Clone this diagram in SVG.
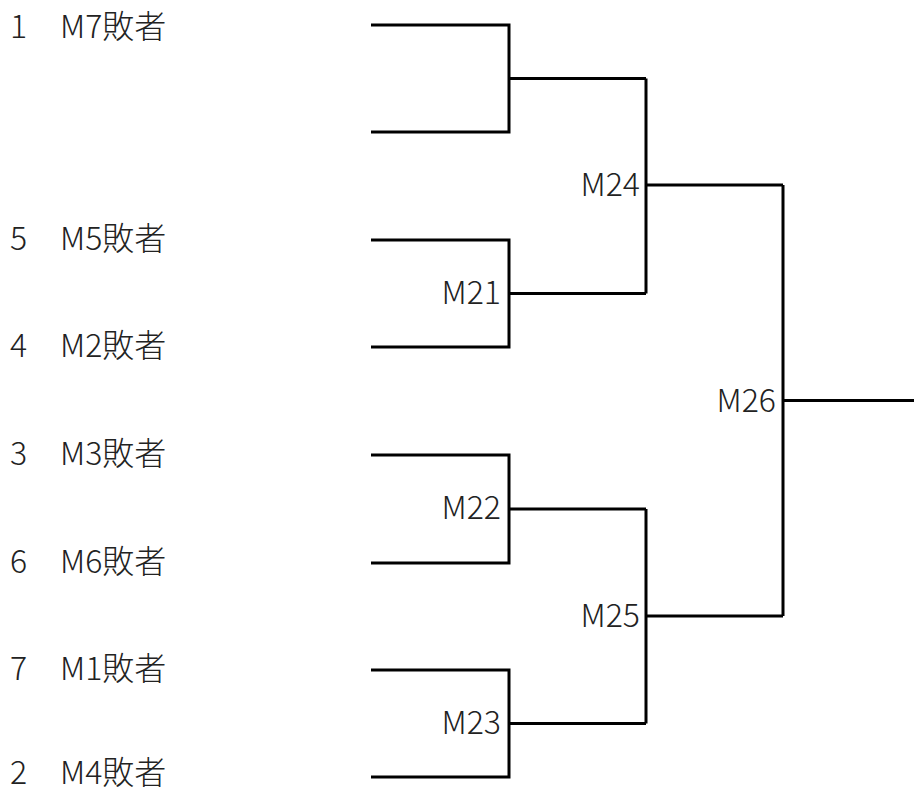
<svg xmlns="http://www.w3.org/2000/svg" width="914" height="794" viewBox="0 0 914 794">
<style>
text{font-family:"Noto Sans CJK JP","Noto Sans",sans-serif;font-size:32px;font-weight:300;fill:#222}
.lbl{text-anchor:end}
.c path{fill:none;stroke:#000;stroke-width:3;stroke-linecap:butt;stroke-linejoin:miter}
</style>
<rect width="914" height="794" fill="#fff"/>
<g id="entries">
<g id="e1"><text x="10" y="38">1</text><text x="60" y="38">M7敗者</text></g>
<g id="e5"><text x="10" y="250">5</text><text x="60" y="250">M5敗者</text></g>
<g id="e4"><text x="10" y="357">4</text><text x="60" y="357">M2敗者</text></g>
<g id="e3"><text x="10" y="465">3</text><text x="60" y="465">M3敗者</text></g>
<g id="e6"><text x="10" y="573">6</text><text x="60" y="573">M6敗者</text></g>
<g id="e7"><text x="10" y="680">7</text><text x="60" y="680">M1敗者</text></g>
<g id="e2"><text x="10" y="784">2</text><text x="60" y="784">M4敗者</text></g>
</g>
<g id="M21"><text class="lbl" x="501" y="304">M21</text></g>
<g id="M22"><text class="lbl" x="501" y="519">M22</text></g>
<g id="M23"><text class="lbl" x="501" y="734">M23</text></g>
<g id="M24"><text class="lbl" x="640" y="196">M24</text></g>
<g id="M25"><text class="lbl" x="640" y="627">M25</text></g>
<g id="M26"><text class="lbl" x="776" y="412">M26</text></g>
<g class="c" id="connectors">
<path d="M371 25H509V132H371M509 78.5H646"/>
<path d="M371 240H509V347H371M509 293.5H646"/>
<path d="M371 455H509V563H371M509 509H646"/>
<path d="M371 670H509V777H371M509 723.5H646"/>
<path d="M646 78.5V293.5M646 185H783"/>
<path d="M646 509V723.5M646 616H783"/>
<path d="M783 185V616M783 400.5H914"/>
</g>
</svg>
